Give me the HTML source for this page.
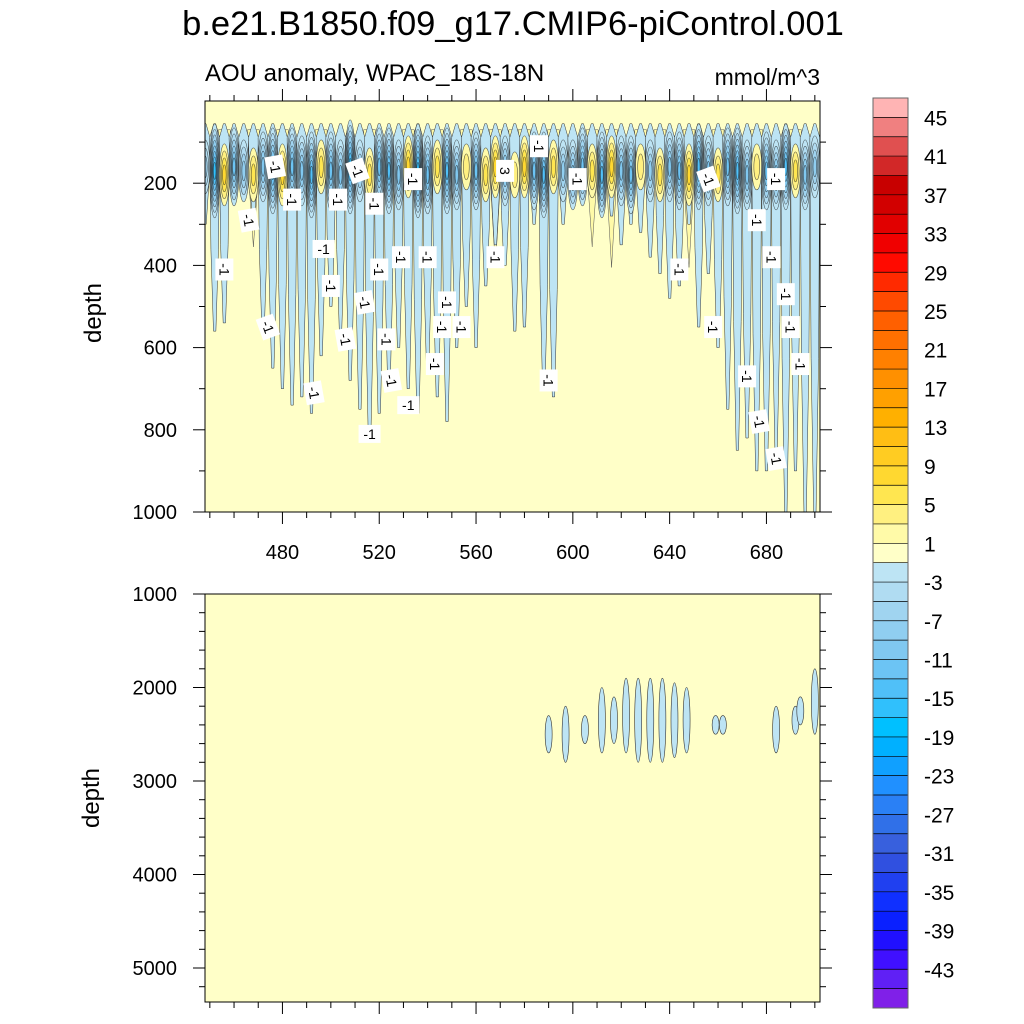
<!DOCTYPE html>
<html><head><meta charset="utf-8">
<style>
html,body{margin:0;padding:0;background:#fff;}
svg{display:block;font-family:"Liberation Sans",sans-serif;}
</style></head>
<body>
<svg id="chart" width="1024" height="1024" viewBox="0 0 1024 1024">
<text x="513" y="35" font-size="34.5" text-anchor="middle">b.e21.B1850.f09_g17.CMIP6-piControl.001</text>
<text x="205" y="81" font-size="24">AOU anomaly, WPAC_18S-18N</text>
<text x="820" y="85" font-size="23" text-anchor="end">mmol/m^3</text>
<text transform="translate(101,313) rotate(-90)" font-size="24" text-anchor="middle">depth</text>
<text transform="translate(99,798) rotate(-90)" font-size="24" text-anchor="middle">depth</text>
<defs>
<clipPath id="cu"><rect x="205" y="101" width="615" height="411"/></clipPath>
<clipPath id="cl"><rect x="205" y="594" width="615" height="408"/></clipPath>
</defs>
<g id="upper"></g>
<g id="lower"></g>
<g id="cbar"></g>
</svg>
<script>
// ---- data ----
const colX = [448,452,456,460,464,468,472,476,480,484,488,492,496,500,504,508,512,516,520,524,528,532,536,540,544,548,552,556,560,564,568,572,576,580,584,588,592,596,600,604,608,612,616,620,624,628,632,636,640,644,648,652,656,660,664,668,672,676,680,684,688,692,696,700];
const blueDepth = [300,560,540,250,220,280,560,650,700,740,720,760,620,500,560,680,750,830,760,700,600,700,760,650,720,780,600,500,600,450,350,400,560,550,300,700,720,300,250,200,220,250,280,350,300,320,380,420,480,450,300,550,420,600,750,850,820,900,900,850,1000,900,1000,1000];
const surfAmp = [-5,-15,7,-11,-7,5,-9,-13,7,-11,-9,-13,5,-11,-9,-15,-7,5,-11,-13,-9,7,-15,-11,5,-13,-9,3,-11,5,7,-9,3,7,-11,-13,5,-7,-9,-11,5,-13,7,-9,-11,3,-7,5,-9,-11,7,-13,-9,5,-11,-13,-9,3,-11,-9,-13,5,-9,-7];
const lowerX = [590,597,605,612,617,622,627,632,637,642,647,659,662,684,692,694,700];
const lowerTop = [2300,2200,2300,2000,2100,1900,1900,1900,1900,1950,2000,2300,2300,2200,2200,2100,1800];
const lowerBottom = [2700,2800,2600,2700,2600,2700,2800,2800,2800,2750,2700,2500,2500,2700,2500,2400,2500];
const levelLabels = ["45","41","37","33","29","25","21","17","13","9","5","1","-3","-7","-11","-15","-19","-23","-27","-31","-35","-39","-43"];
const upperXTicks = [480,520,560,600,640,680];
const upperYTicks = [200,400,600,800,1000];
const lowerYTicks = [1000,2000,3000,4000,5000];
const contourLabels = [[456,410,90,"-1"],[466,290,80,"-1"],[474,550,70,"-1"],[477,160,80,"-1"],[484,240,90,"-1"],[493,710,80,"-1"],[497,360,0,"-1"],[500,450,90,"-1"],[503,240,90,"-1"],[506,580,80,"-1"],[511,170,70,"-1"],[514,490,80,"-1"],[516,810,0,"-1"],[518,250,90,"-1"],[520,410,90,"-1"],[523,580,90,"-1"],[525,680,80,"-1"],[529,380,90,"-1"],[532,740,0,"-1"],[534,190,90,"-1"],[540,380,90,"-1"],[543,640,90,"-1"],[546,550,90,"-1"],[548,490,90,"-1"],[554,550,90,"-1"],[568,380,90,"-1"],[572,170,90,"3"],[586,110,90,"-1"],[590,680,90,"-1"],[602,190,90,"-1"],[644,410,90,"-1"],[658,550,90,"-1"],[656,190,70,"-1"],[672,670,90,"-1"],[676,290,90,"-1"],[677,780,80,"-1"],[682,380,90,"-1"],[684,190,90,"-1"],[688,470,90,"-1"],[690,550,90,"-1"],[694,640,90,"-1"],[684,870,80,"-1"]];
// ---- scales ----
const xs = v => 205 + (v - 448) * 2.42;
const yu = d => 101 + d * 0.411;
const yl = d => 594 + (d - 1000) * 0.0935;
const NS = "http://www.w3.org/2000/svg";
const colors = ["#ffb4b4","#f08080","#e05050","#d22828","#c80000","#d20000","#e10000","#f00000","#ff0a00","#ff2a00","#ff4a00","#ff6000","#ff7000","#ff8000","#ff9000","#ffa000","#ffb000","#ffbe14","#ffcc22","#ffd830","#ffe650","#fff080","#fffaa8","#ffffc8","#bde4f4","#b0dcf2","#a0d4f0","#90cef0","#80c8f0","#6cc4f4","#50c0f8","#30c0fc","#00c0ff","#00b0ff","#10a0ff","#2090ff","#2a80f5","#3070e8","#3860dd","#3050e0","#2040f0","#1030ff","#0a20ff","#2010ff","#4010ff","#6020f5","#8020e8"];
function colorFor(v){
  let i = Math.floor((45 - v) / 2) + 1; if (i < 0) i = 0; if (i > 46) i = 46; return colors[i];
}
function mk(tag, attrs, parent){ const e = document.createElementNS(NS, tag); for (const k in attrs) e.setAttribute(k, attrs[k]); parent.appendChild(e); return e; }
const up = document.getElementById('upper');
const lo = document.getElementById('lower');
const cb = document.getElementById('cbar');
const ubg = mk('rect',{x:205,y:101,width:615,height:411,fill:'#ffffc8'},up);


const ug = mk('g',{'clip-path':'url(#cu)'},up);
colX.forEach((x,i)=>{
  if (surfAmp[i] > 0){
    const cx = xs(x), top = yu(70), bot = yu(230 + surfAmp[i]*25);
    const p = mk('path',{d:`M${cx-6},${top} L${cx+6},${top} L${cx+4},${(top+bot)/2} L${cx},${bot} L${cx-4},${(top+bot)/2} Z`,fill:'#fffaa8',stroke:'#555',"stroke-width":0.5},ug);
    
    
  }
});
colX.forEach((x,i)=>{
  const cx = xs(x), w = 5, top = yu(65), bot = yu(blueDepth[i]);
  const mid = top + (bot-top)*0.6;
  const p = mk('path',{d:`M${cx-1},${top-4} L${cx+1},${top-4} L${cx+w},${top+10} L${cx+w*0.75},${mid} L${cx+1.2},${bot} L${cx-1.2},${bot} L${cx-w*0.75},${mid} L${cx-w},${top+10} Z`,fill:'#bde4f4',stroke:'#333',"stroke-width":0.5},ug);
  
  
});
colX.forEach((x,i)=>{
  const a = surfAmp[i], cx = xs(x);
  const n = Math.floor(Math.abs(a)/2);
  const hmax = 14 + Math.abs(a)*2;
  for (let k=0;k<=n;k++){
    const lev = a<0 ? -1-2*k : 1+2*k;
    const f = 1 - k/(n+1);
    const e = mk('ellipse',{cx:cx,cy:yu(170)+(i%3-1)*4,rx:4.2*f+0.8,ry:hmax*f+3,fill:colorFor(lev+(a<0?-0.5:0.5)),stroke:'#222',"stroke-width":0.6,"stroke-opacity":0.75},ug);
    
    
  }
});
contourLabels.forEach(c=>{
  const g = mk('g',{transform:`translate(${xs(c[0])},${yu(c[1])}) rotate(${c[2]})`},ug);
  
  
  mk('rect',{x:-11,y:-9,width:22,height:18,fill:'#fff'},g);
  const t = mk('text',{x:0,y:5,'font-size':14,'text-anchor':'middle'},g); t.textContent = c[3];
});
mk('rect',{x:205,y:101,width:615,height:411,fill:'none',stroke:'#000','stroke-width':1},up);
for (let v=450; v<=700; v+=10){
  const major = upperXTicks.includes(v), L = major?12:6;
  mk('line',{x1:xs(v),x2:xs(v),y1:512,y2:512+L,stroke:'#000'},up);
  mk('line',{x1:xs(v),x2:xs(v),y1:101,y2:101-L,stroke:'#000'},up);
}
upperXTicks.forEach(v=>{ const t=mk('text',{x:xs(v),y:559,'font-size':20,'text-anchor':'middle'},up); t.textContent=v;
    });
for (let d=100; d<=1000; d+=100){
  const major = upperYTicks.includes(d), L = major?12:6;
  mk('line',{x1:205,x2:205-L,y1:yu(d),y2:yu(d),stroke:'#000'},up);
  mk('line',{x1:820,x2:820+L,y1:yu(d),y2:yu(d),stroke:'#000'},up);
}
upperYTicks.forEach(d=>{ const t=mk('text',{x:177,y:yu(d)+7,'font-size':20,'text-anchor':'end'},up); t.textContent=d;
    });
const lbg = mk('rect',{x:205,y:594,width:615,height:408,fill:'#ffffc8'},lo);


const lg = mk('g',{'clip-path':'url(#cl)'},lo);
lowerX.forEach((x,i)=>{
  const e = mk('ellipse',{cx:xs(x),cy:(yl(lowerTop[i])+yl(lowerBottom[i]))/2,rx:3.5,ry:(yl(lowerBottom[i])-yl(lowerTop[i]))/2,fill:'#bde4f4',stroke:'#333','stroke-width':0.6},lg);
  
  
});
mk('rect',{x:205,y:594,width:615,height:408,fill:'none',stroke:'#000'},lo);
for (let v=450; v<=700; v+=10){
  const major = upperXTicks.includes(v), L = major?12:6;
  mk('line',{x1:xs(v),x2:xs(v),y1:1002,y2:1002+L,stroke:'#000'},lo);
}
for (let d=1000; d<=5200; d+=200){
  const major = lowerYTicks.includes(d), L = major?12:6;
  mk('line',{x1:205,x2:205-L,y1:yl(d),y2:yl(d),stroke:'#000'},lo);
  mk('line',{x1:820,x2:820+L,y1:yl(d),y2:yl(d),stroke:'#000'},lo);
}
lowerYTicks.forEach(d=>{ const t=mk('text',{x:177,y:yl(d)+7,'font-size':20,'text-anchor':'end'},lo); t.textContent=d;
    });
const bh = 910/47;
colors.forEach((c,i)=>{
  const r = mk('rect',{x:873,y:98+i*bh,width:35,height:bh+0.3,fill:c},cb);
  
  
  if (i>0) mk('line',{x1:873,x2:908,y1:98+i*bh,y2:98+i*bh,stroke:'#000','stroke-width':0.7},cb);
});
mk('rect',{x:873,y:98,width:35,height:910,fill:'none',stroke:'#666','stroke-width':1},cb);
levelLabels.forEach((s,j)=>{
  const t = mk('text',{x:924,y:98+(1+2*j)*bh+8,'font-size':21},cb); t.textContent=s;
   
});
</script>
</body></html>
